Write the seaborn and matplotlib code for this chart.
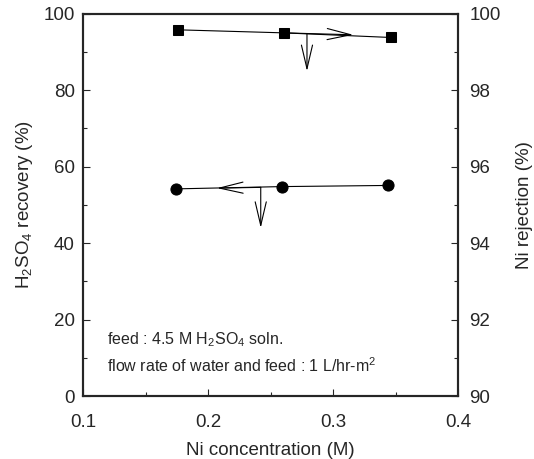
import numpy as np
import pandas as pd
import seaborn as sns
import matplotlib.pyplot as plt
from matplotlib.ticker import MultipleLocator

# data
ni_conc_sq = [0.176, 0.261, 0.346]
ni_rejection = [99.58, 99.50, 99.38]
ni_conc_ci = [0.174, 0.259, 0.344]
h2so4_recovery = [54.2, 54.8, 55.1]

df_sq = pd.DataFrame({"x": ni_conc_sq, "y": ni_rejection})
df_ci = pd.DataFrame({"x": ni_conc_ci, "y": h2so4_recovery})

sns.set_style("ticks")
plt.rcParams['font.family'] = ['Liberation Sans', 'DejaVu Sans']
plt.rcParams['mathtext.fontset'] = 'custom'
plt.rcParams['mathtext.rm'] = 'Liberation Sans'
plt.rcParams['mathtext.it'] = 'Liberation Sans'

fig = plt.figure(figsize=(5.34, 4.59), dpi=100)
ax = fig.add_axes([0.156, 0.137, 0.702, 0.833])
ax2 = ax.twinx()

# H2SO4 recovery (left axis)
sns.lineplot(data=df_ci, x="x", y="y", ax=ax, color="black", lw=0.8,
             marker="o", markersize=8, markeredgecolor="black")
# Ni rejection (right axis)
sns.lineplot(data=df_sq, x="x", y="y", ax=ax2, color="black", lw=0.8,
             marker="s", markersize=7, markeredgecolor="black")

arrow = dict(arrowstyle="->,head_length=1.7,head_width=0.4", color="black", lw=0.8,
             shrinkA=0, shrinkB=0)
# arrows for the square series -> right axis
ax2.annotate("", xy=(0.316, 99.45), xytext=(ni_conc_sq[1], ni_rejection[1]), arrowprops=arrow)
ax2.annotate("", xy=(0.279, 98.5), xytext=(0.279, 99.48), arrowprops=arrow)
# arrows for the circle series -> left axis
ax.annotate("", xy=(0.207, 54.4), xytext=(0.242, 54.6), arrowprops=arrow)
ax.annotate("", xy=(0.242, 44.0), xytext=(0.242, 54.6), arrowprops=arrow)

ax.set_xlim(0.1, 0.4)
ax.set_ylim(0, 100)
ax2.set_ylim(90, 100)
ax.set_xticks([0.1, 0.2, 0.3, 0.4])
ax.set_xticklabels(["0.1", "0.2", "0.3", "0.4"])
ax.xaxis.set_minor_locator(MultipleLocator(0.05))
ax.yaxis.set_major_locator(MultipleLocator(20))
ax.yaxis.set_minor_locator(MultipleLocator(10))
ax2.yaxis.set_major_locator(MultipleLocator(2))
ax2.yaxis.set_minor_locator(MultipleLocator(1))

ax.set_xlabel("Ni concentration (M)", fontsize=13.5, labelpad=8)
ax.set_ylabel("H$_2$SO$_4$ recovery (%)", fontsize=13.5, labelpad=6)
ax2.set_ylabel("Ni rejection (%)", fontsize=13.5, labelpad=11)

for a in (ax, ax2):
    a.tick_params(which="both", direction="in", labelsize=13.5, width=0.8)
    a.tick_params(which="major", length=5)
    a.tick_params(which="minor", length=3)
    for s in a.spines.values():
        s.set_linewidth(1.5)
ax.tick_params(axis="x", pad=13)
ax.tick_params(axis="y", pad=6)
ax2.tick_params(axis="y", pad=8)

ax.text(0.119, 14.7, "feed : 4.5 M H$_2$SO$_4$ soln.", fontsize=11.5, va="center")
ax.text(0.119, 8.0, "flow rate of water and feed : 1 L/hr-m$^2$", fontsize=11.5, va="center")

fig.savefig("out.png", dpi=100)
